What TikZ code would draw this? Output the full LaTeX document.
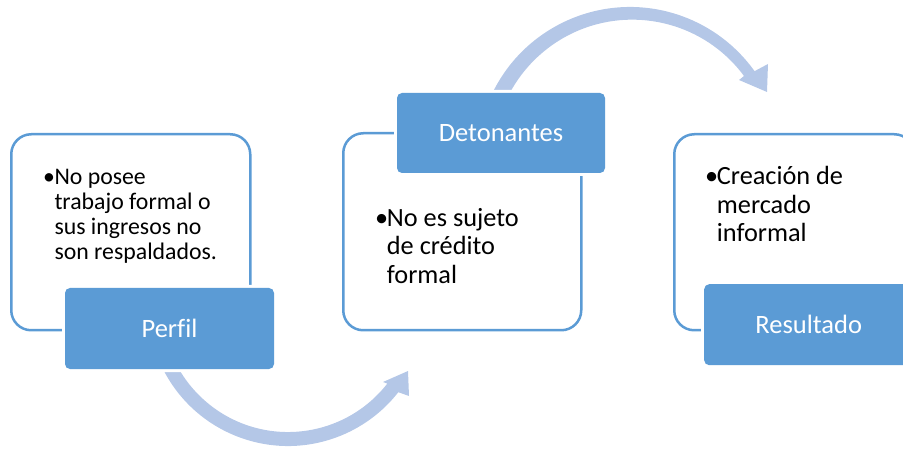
\documentclass[tikz,border=0pt]{standalone}
\usepackage{fontspec}
\setmainfont{Carlito}[Ligatures={NoCommon}]
\definecolor{accent}{HTML}{5B9BD5}
\definecolor{arrowc}{HTML}{B4C7E7}
\begin{document}
\begin{tikzpicture}[x=1pt,y=-1pt,
  outerbox/.style={draw=accent, line width=2.5pt, rounded corners=20pt, fill=white, inner sep=0pt, anchor=north west},
  hdr/.style={fill=accent, preaction={draw=white, line width=6pt}, rounded corners=5pt, inner sep=0pt, text=white, font=\fontsize{26.5}{28}\selectfont},
  curarrow/.style={fill=arrowc, draw=none},
  smalltxt/.style={anchor=base west, inner sep=0pt, align=left, font=\fontsize{23.8}{25}\selectfont},
  bigtxt/.style={anchor=base west, inner sep=0pt, align=left, font=\fontsize{26.3}{28.3}\selectfont}
]
\useasboundingbox (0,0) rectangle (903,449);
\clip (0,0) rectangle (903,449);
% outline boxes
\node[outerbox, minimum width=239pt, minimum height=196pt] (o1) at (10,133) {};
\node[outerbox, minimum width=238pt, minimum height=197pt] (o2) at (342,132) {};
\node[outerbox, minimum width=240pt, minimum height=196pt] (o3) at (673,133) {};
% curved arrows
\coordinate (c1) at (288,306);
\coordinate (c2) at (630,160);
\fill[curarrow] (c1) ++(160:140) arc[start angle=160, end angle=38, radius=140]
  -- (409,396) -- (408,371) -- (383,382) -- (387.3,383.6)
  arc[start angle=38, end angle=160, radius=126] -- cycle;
\fill[curarrow] (c2) ++(200:153) arc[start angle=200, end angle=324.5, radius=153]
  -- (768,64) -- (767,92) -- (739,80) -- (744,76)
  arc[start angle=323.5, end angle=200, radius=139] -- cycle;
% header boxes
\node[hdr, minimum width=209pt, minimum height=81pt] (h1) at (169.5,328.5) {Perfil};
\node[hdr, minimum width=208pt, minimum height=80pt] (h2) at (501,133) {Detonantes};
\node[hdr, minimum width=209pt, minimum height=81pt, anchor=north west] (h3) at (704,284) {Resultado};
% body texts (anchor = baseline of last line)
\node[smalltxt] (b1) at (43,184.3) {•};
\node[smalltxt] (t1) at (54.3,259.3) {No posee\\trabajo formal o\\sus ingresos no\\son respaldados.};
\node[bigtxt] (b2) at (375,226.7) {•};
\node[bigtxt] (t2) at (386.7,283.3) {No es sujeto\\de crédito\\formal};
\node[bigtxt] (b3) at (705,185) {•};
\node[bigtxt] (t3) at (716.7,241.6) {Creación de\\mercado\\informal};
\end{tikzpicture}
\end{document}
